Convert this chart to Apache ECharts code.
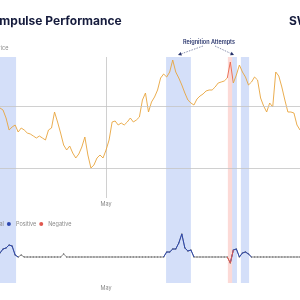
<!DOCTYPE html>
<html>
<head>
<meta charset="utf-8">
<script src="https://cdn.jsdelivr.net/npm/echarts@6/dist/echarts.min.js"></script>
<style>
  html, body { margin: 0; padding: 0; background: #fff; }
  #chart { width: 300px; height: 300px; }
</style>
</head>
<body>
<div id="chart"></div>
<script>
// price index (one point per ~3px)
const price = [
  90, 88, 80, 68, 71, 73, 66, 70, 68, 65,
  64, 62, 60, 62, 60, 58, 68, 70, 86, 76,
  65, 53, 48, 52, 45, 40, 44, 51, 61, 43,
  30, 33, 40, 43, 40, 48, 58, 76, 77, 73,
  75, 73, 76, 80, 76, 78, 81, 98, 105, 86,
  96, 101, 108, 120, 124, 121, 126, 138, 126, 120,
  113, 105, 98, 95, 93, 99, 102, 104, 107, 108,
  108, 111, 115, 116, 117, 120, 136, 115, 123, 133,
  126, 121, 113, 116, 121, 118, 100, 92, 86, 95,
  91, 126, 122, 111, 98, 86, 86, 85, 73, 68
]

// impulse signal (bottom panel)
const impulse = [
  4, 8, 9, 12, 11, 2, 0, 2, 0, 0,
  0, 0, 0, 0, 0, 0, 0, 0, 0, 0,
  0, 3, 0, 0, 0, 0, 0, 0, 0, 0,
  0, 0, 0, 0, 0, 0, 0, 0, 0, 0,
  0, 0, 0, 0, 0, 0, 0, 0, 0, 0,
  0, 0, 0, 0, 0, 5, 5, 8, 8, 14,
  23, 9, 6, 7, 0, 0, 0, 0, 0, 0,
  0, 0, 0, 0, 0, 0, -6, 7, 8, 0,
  4, 5, 3, 0, 0, 0, 0, 0, 0, 0,
  0, 0, 0, 0, 0, 0, 0, 0, 0, 0
]

// regimes, in point index units
const positiveBands = [[-1, 5.3], [54.8, 63], [76.6, 78.2], [79.5, 82.2]]
const negativeBands = [[75.2, 76.6]]

const priceGrid = [30, 92]
const mayIndex = 35
const days = price.map((_, i) => i === mayIndex ? 'May' : String(i))

const inBand = (i, bands) => bands.some(([a, b]) => i >= a - 1 && i <= b + 1)
const positive = impulse.map((v, i) => inBand(i, positiveBands) ? v : null)
const negative = impulse.map((v, i) => inBand(i, negativeBands) ? v : null)

const bandArea = (bands, color) => bands.map(([a, b]) => [
  { xAxis: a, itemStyle: { color: color } },
  { xAxis: b }
])

function arrow(x1, y1, x2, y2) {
  const dx = x2 - x1, dy = y2 - y1
  const len = Math.sqrt(dx * dx + dy * dy)
  const ux = dx / len, uy = dy / len
  const bx = x2 - ux * 3.5, by = y2 - uy * 3.5
  return [
    {
      type: 'line',
      shape: { x1: x1, y1: y1, x2: bx, y2: by },
      style: { stroke: '#56608c', lineWidth: 0.7, lineDash: [1.5, 1.2] }
    },
    {
      type: 'polygon',
      shape: { points: [[x2, y2], [bx - uy * 1.8, by + ux * 1.8], [bx + uy * 1.8, by - ux * 1.8]] },
      style: { fill: '#27336b' }
    }
  ]
}

const chart = echarts.init(document.getElementById('chart'))

const tinyLabel = { fontSize: 5.5, color: '#8a8a8a', fontFamily: 'Inter' }

chart.setOption({
  animation: false,
  textStyle: { fontFamily: 'Inter' },
  grid: [
    { left: 0, right: 0, top: 57, height: 141 },
    { left: 0, right: 0, top: 228, height: 55 },
    { left: 0, right: 0, top: 57, height: 226 }
  ],
  legend: [
    {
      data: ['Price'], left: -19, top: 40, icon: 'circle',
      itemWidth: 4, itemHeight: 4, textStyle: tinyLabel
    },
    {
      data: ['Neutral', 'Positive', 'Negative'], left: -29, top: 216, icon: 'circle',
      itemWidth: 4, itemHeight: 4, itemGap: 3, textStyle: tinyLabel
    }
  ],
  visualMap: {
    show: false, type: 'piecewise', seriesIndex: 1, dimension: 0,
    pieces: [{ gt: 75.4, lt: 76.6, color: '#e9664b' }],
    outOfRange: { color: '#e8a43c' }
  },
  xAxis: [
    {
      type: 'category', gridIndex: 0, data: days, boundaryGap: false,
      axisLine: { show: false }, axisTick: { show: false },
      axisLabel: Object.assign({ interval: (i) => i === mayIndex, margin: 3 }, tinyLabel),
      splitLine: { show: true, interval: (i) => i === mayIndex, lineStyle: { color: '#c4c4c4', width: 0.8 } }
    },
    {
      type: 'category', gridIndex: 1, data: days, boundaryGap: false,
      axisLine: { show: false }, axisTick: { show: false },
      axisLabel: Object.assign({ interval: (i) => i === mayIndex, margin: 2 }, tinyLabel),
      splitLine: { show: false }
    },
    { type: 'value', gridIndex: 2, min: 0, max: price.length - 1, show: false }
  ],
  yAxis: [
    { type: 'value', gridIndex: 0, min: 0, max: 141, show: false, splitLine: { show: false } },
    { type: 'value', gridIndex: 1, min: -26, max: 29, show: false, splitLine: { show: false } },
    { type: 'value', gridIndex: 2, min: 0, max: 1, show: false, splitLine: { show: false } }
  ],
  series: [
    {
      name: 'bands', type: 'line', xAxisIndex: 2, yAxisIndex: 2, data: [], z: 0, silent: true,
      markArea: {
        silent: true,
        data: bandArea(positiveBands, 'rgba(120,155,235,0.32)')
          .concat(bandArea(negativeBands, 'rgba(245,150,140,0.35)'))
      }
    },
    {
      name: 'Price', type: 'line', xAxisIndex: 0, yAxisIndex: 0, data: price,
      showSymbol: false, color: '#e8a43c', lineStyle: { width: 0.9 }, z: 3,
      markLine: {
        silent: true, symbol: 'none', label: { show: false },
        lineStyle: { color: '#c4c4c4', type: 'solid', width: 0.8 },
        data: priceGrid.map(v => ({ yAxis: v }))
      }
    },
    {
      name: 'Neutral', type: 'line', xAxisIndex: 1, yAxisIndex: 1, data: impulse,
      color: '#707070', symbol: 'circle', symbolSize: 1.5, showSymbol: true,
      lineStyle: { width: 0.8 }, z: 3
    },
    {
      name: 'Positive', type: 'line', xAxisIndex: 1, yAxisIndex: 1, data: positive,
      color: '#2c47b0', showSymbol: false, lineStyle: { width: 1 }, z: 4
    },
    {
      name: 'Negative', type: 'line', xAxisIndex: 1, yAxisIndex: 1, data: negative,
      color: '#e0574e', showSymbol: false, lineStyle: { width: 1 }, z: 4
    }
  ],
  graphic: [
    {
      type: 'text', left: -4, top: 15,
      style: { text: 'Impulse Performance', font: 'bold 12px Inter', fill: '#161c3d' }
    },
    {
      type: 'text', left: 289, top: 15,
      style: { text: 'SW', font: 'bold 12px Inter', fill: '#161c3d' }
    },
    {
      type: 'text', x: 209, y: 42,
      style: {
        text: 'Reignition Attempts', font: '600 5.5px Inter', fill: '#27336b',
        align: 'center', verticalAlign: 'middle'
      }
    }
  ].concat(arrow(203, 46, 178, 55), arrow(215, 46, 234, 55))
})
</script>
</body>
</html>
